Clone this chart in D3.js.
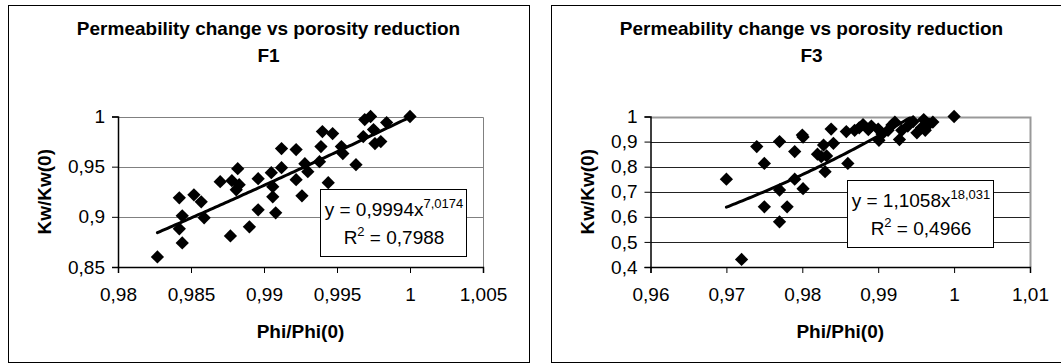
<!DOCTYPE html>
<html>
<head>
<meta charset="utf-8">
<script src="https://cdn.jsdelivr.net/npm/d3@7"></script>
<style>
  html, body { margin: 0; padding: 0; background: #fff; }
  svg { display: block; font-family: "Liberation Sans", Arial, sans-serif; }
</style>
</head>
<body>
<svg id="chart" width="1061" height="364"></svg>
<script>
// ---------- DATA ----------
const chartTitle = "Permeability change vs porosity reduction";
const panelNames = ["F1", "F3"];
const xAxisTitle = "Phi/Phi(0)";
const yAxisTitle = "Kw/Kw(0)";

// F1 points
const f1Phi = [0.9827,0.9842,0.9844,0.9842,0.9844,0.9852,0.9857,0.9859,0.9870,0.9877,
               0.9878,0.9882,0.9881,0.9883,0.9890,0.9896,0.9896,0.9905,0.9906,0.9906,
               0.9908,0.9912,0.9912,0.9922,0.9922,0.9926,0.9928,0.9930,0.9938,0.9939,
               0.9940,0.9944,0.9947,0.9953,0.9954,0.9963,0.9968,0.9969,0.9973,0.9975,
               0.9976,0.9980,0.9984,1.0000];
const f1Kw  = [0.860,0.919,0.901,0.888,0.874,0.922,0.915,0.899,0.935,0.881,
               0.936,0.948,0.927,0.932,0.890,0.907,0.938,0.944,0.930,0.920,
               0.904,0.949,0.968,0.967,0.937,0.921,0.953,0.945,0.955,0.970,
               0.985,0.934,0.983,0.970,0.963,0.952,0.980,0.997,1.000,0.987,
               0.973,0.975,0.994,1.000];
// F3 points
const f3Phi = [0.9700,0.9720,0.9740,0.9750,0.9750,0.9770,0.9770,0.9770,0.9780,0.9790,
               0.9790,0.9800,0.9801,0.9801,0.9820,0.9825,0.9828,0.9830,0.9832,0.9838,
               0.9841,0.9860,0.9858,0.9869,0.9875,0.9880,0.9887,0.9891,0.9900,0.9901,
               0.9905,0.9913,0.9918,0.9922,0.9928,0.9931,0.9939,0.9946,0.9951,0.9957,
               0.9960,0.9962,0.9967,0.9972,1.0000];
const f3Kw  = [0.750,0.430,0.880,0.813,0.640,0.900,0.707,0.580,0.640,0.860,
               0.750,0.926,0.918,0.712,0.850,0.840,0.886,0.780,0.843,0.950,
               0.893,0.813,0.940,0.945,0.955,0.968,0.948,0.962,0.950,0.905,
               0.930,0.945,0.966,0.978,0.908,0.945,0.962,0.980,0.935,0.955,
               0.988,0.945,0.970,0.978,1.000];

// Power trendline coefficients y = a * x^b
const f1Trend = [0.9994, 7.0174];
const f3Trend = [1.1058, 18.031];
const f1TrendRange = [0.9827, 1.0];
const f3TrendRange = [0.9700, 1.0];

// Legend texts
const f1Eq = ["y = 0,9994x", "7,0174", "R", "2", " = 0,7988"];
const f3Eq = ["y = 1,1058x", "18,031", "R", "2", " = 0,4966"];

// Axis ticks
const f1XTicks = [0.98, 0.985, 0.99, 0.995, 1, 1.005];
const f1XLabels = ["0,98", "0,985", "0,99", "0,995", "1", "1,005"];
const f1YTicks = [0.85, 0.9, 0.95, 1];
const f1YLabels = ["0,85", "0,9", "0,95", "1"];
const f3XTicks = [0.96, 0.97, 0.98, 0.99, 1, 1.01];
const f3XLabels = ["0,96", "0,97", "0,98", "0,99", "1", "1,01"];
const f3YTicks = [0.4, 0.5, 0.6, 0.7, 0.8, 0.9, 1];
const f3YLabels = ["0,4", "0,5", "0,6", "0,7", "0,8", "0,9", "1"];

// ---------- DRAW ----------
const svg = d3.select("#chart");
const FS = 19;     // main font size
const FSUP = 13;   // superscript size

function drawPanel(cfg) {
  const g = svg.append("g");
  g.append("rect")
    .attr("x", cfg.box[0] + 0.5).attr("y", cfg.box[1] + 0.5)
    .attr("width", cfg.box[2]).attr("height", cfg.box[3])
    .attr("fill", "#fff").attr("stroke", "#000").attr("stroke-width", 1);

  const cx = cfg.box[0] + cfg.box[2] / 2;
  g.append("text").attr("x", cx).attr("y", 35)
    .attr("text-anchor", "middle").attr("font-size", FS).attr("font-weight", "bold")
    .text(chartTitle);
  g.append("text").attr("x", cx).attr("y", 62)
    .attr("text-anchor", "middle").attr("font-size", FS).attr("font-weight", "bold")
    .text(cfg.name);

  const x = d3.scaleLinear().domain(cfg.xDomain).range([cfg.plot[0], cfg.plot[1]]);
  const y = d3.scaleLinear().domain(cfg.yDomain).range([cfg.plot[3], cfg.plot[2]]);

  g.append("g").selectAll("line")
    .data(cfg.yTicks.filter(d => d !== cfg.yDomain[0]))
    .join("line")
    .attr("x1", cfg.plot[0]).attr("x2", cfg.plot[1])
    .attr("y1", d => Math.round(y(d)) + 0.5).attr("y2", d => Math.round(y(d)) + 0.5)
    .attr("stroke", cfg.gridColor).attr("stroke-width", 1);

  g.append("path")
    .attr("d", `M${cfg.plot[0]},${Math.round(cfg.plot[2]) + 0.5}H${cfg.plot[1] + 0.5}V${cfg.plot[3]}`)
    .attr("fill", "none").attr("stroke", cfg.borderColor).attr("stroke-width", cfg.borderWidth);

  const xAxis = d3.axisBottom(x).tickValues(cfg.xTicks)
    .tickFormat((d, i) => cfg.xLabels[i]).tickSizeOuter(0).tickSize(6).tickPadding(15);
  const yAxis = d3.axisLeft(y).tickValues(cfg.yTicks)
    .tickFormat((d, i) => cfg.yLabels[i]).tickSizeOuter(0).tickSize(6).tickPadding(7);

  const gx = g.append("g").attr("transform", `translate(0,${cfg.plot[3]})`).call(xAxis);
  const gy = g.append("g").attr("transform", `translate(${cfg.plot[0]},0)`).call(yAxis);
  [gx, gy].forEach(a => {
    a.selectAll("text").attr("font-size", FS).attr("fill", "#000")
      .attr("font-family", '"Liberation Sans", Arial, sans-serif');
    a.selectAll("line").attr("stroke", "#000");
    a.select(".domain").attr("stroke", "#000").attr("stroke-width", 1.5);
  });

  const clipId = "clip-" + cfg.name;
  svg.append("clipPath").attr("id", clipId).append("rect")
    .attr("x", cfg.plot[0]).attr("y", cfg.plot[2])
    .attr("width", cfg.plot[1] - cfg.plot[0]).attr("height", cfg.plot[3] - cfg.plot[2]);

  const pts = cfg.px.map((v, i) => [v, cfg.py[i]]);
  const sym = d3.symbol().type(d3.symbolSquare).size(88);
  g.append("g").selectAll("path").data(pts).join("path")
    .attr("d", sym)
    .attr("transform", d => `translate(${x(d[0])},${y(d[1])}) rotate(45)`)
    .attr("fill", "#000");

  const [a, b] = cfg.trend;
  const xs = d3.range(0, 101).map(i => cfg.trendRange[0] + (cfg.trendRange[1] - cfg.trendRange[0]) * i / 100);
  const line = d3.line().x(d => x(d)).y(d => y(a * Math.pow(d, b)));
  g.append("path").datum(xs)
    .attr("clip-path", `url(#${clipId})`)
    .attr("d", line).attr("fill", "none").attr("stroke", "#000")
    .attr("stroke-width", 3).attr("stroke-linecap", "round");

  const lb = cfg.legend;
  g.append("rect").attr("x", lb[0] + 0.5).attr("y", lb[1] + 0.5)
    .attr("width", lb[2]).attr("height", lb[3])
    .attr("fill", "#fff").attr("stroke", "#000").attr("stroke-width", 1);
  const lcx = lb[0] + lb[2] / 2 + 1;
  const t1 = g.append("text").attr("x", lcx).attr("y", lb[1] + 27)
    .attr("text-anchor", "middle").attr("font-size", FS);
  t1.append("tspan").text(cfg.eq[0]);
  t1.append("tspan").attr("dy", -8).attr("font-size", FSUP).text(cfg.eq[1]);
  const t2 = g.append("text").attr("x", lcx).attr("y", lb[1] + 55)
    .attr("text-anchor", "middle").attr("font-size", FS);
  t2.append("tspan").text(cfg.eq[2]);
  t2.append("tspan").attr("dy", -8).attr("font-size", FSUP).text(cfg.eq[3]);
  t2.append("tspan").attr("dy", 8).text(cfg.eq[4]);

  g.append("text").attr("x", (cfg.plot[0] + cfg.plot[1]) / 2).attr("y", 338)
    .attr("text-anchor", "middle").attr("font-size", FS).attr("font-weight", "bold")
    .text(xAxisTitle);
  g.append("text")
    .attr("transform", `translate(${cfg.box[0] + 36},${(cfg.plot[2] + cfg.plot[3]) / 2}) rotate(-90)`)
    .attr("text-anchor", "middle").attr("dominant-baseline", "central")
    .attr("font-size", FS).attr("font-weight", "bold")
    .text(yAxisTitle);
}

drawPanel({
  name: panelNames[0],
  box: [8, 5, 521, 357],
  plot: [118, 483, 116.5, 267],
  xDomain: [0.98, 1.005], yDomain: [0.85, 1],
  xTicks: f1XTicks, xLabels: f1XLabels, yTicks: f1YTicks, yLabels: f1YLabels,
  px: f1Phi, py: f1Kw, trend: f1Trend, trendRange: f1TrendRange,
  legend: [320, 189, 146, 67], eq: f1Eq,
  gridColor: "#808080", borderColor: "#808080", borderWidth: 1
});

drawPanel({
  name: panelNames[1],
  box: [551, 5, 521, 357],
  plot: [650.5, 1030, 116.5, 267],
  xDomain: [0.96, 1.01], yDomain: [0.4, 1],
  xTicks: f3XTicks, xLabels: f3XLabels, yTicks: f3YTicks, yLabels: f3YLabels,
  px: f3Phi, py: f3Kw, trend: f3Trend, trendRange: f3TrendRange,
  legend: [847, 180, 146, 67], eq: f3Eq,
  gridColor: "#222", borderColor: "#999", borderWidth: 2
});
</script>
</body>
</html>
